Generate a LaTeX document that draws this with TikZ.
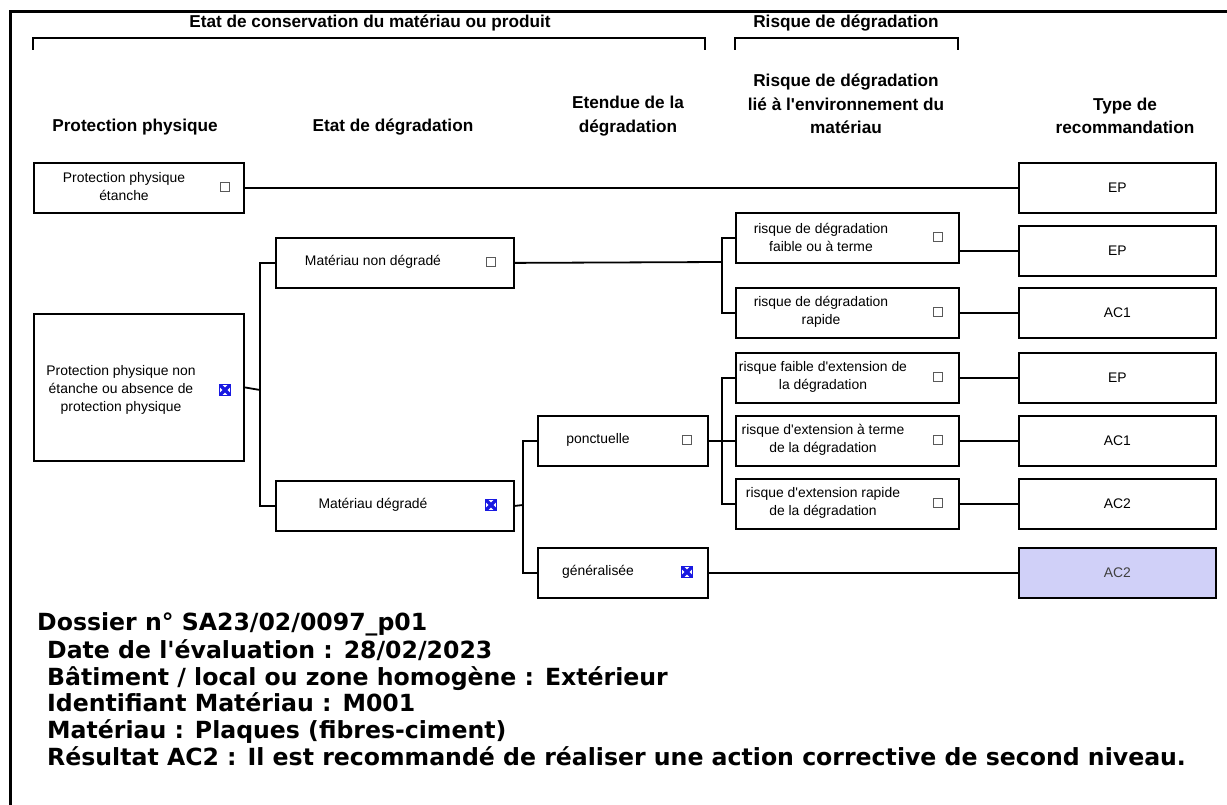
\documentclass[tikz,border=0pt]{standalone}
\usepackage{fontspec}
\setmainfont{Liberation Sans}
\newfontfamily\verd{DejaVu Sans}
\definecolor{cbblue}{RGB}{25,25,225}
\definecolor{lav}{RGB}{208,208,248}
\newcommand\aq{\textquotesingle}
\begin{document}
\begin{tikzpicture}[x=1pt,y=-1pt,
  frame/.style={line width=3pt},
  brk/.style={line width=1.8pt},
  box/.style={draw, line width=1.8pt, rectangle, inner sep=0pt, anchor=north west},
  conn/.style={line width=1.8pt},
  txt/.style={align=center, inner sep=0pt, font=\fontsize{13.9}{18}\selectfont},
  hdr/.style={align=center, inner sep=0pt, font=\bfseries\fontsize{17.2}{23.5}\selectfont},
  info/.style={anchor=base west, inner sep=0pt, font=\verd\bfseries\fontsize{23.6}{27}\selectfont},
  cb/.style={draw=black!65, line width=1.2pt, minimum size=9pt, inner sep=0pt},
  cbx/.style={draw=cbblue, line width=1pt, minimum size=11pt, inner sep=0pt,
    path picture={\draw[cbblue, line width=3.2pt] (path picture bounding box.north west) -- (path picture bounding box.south east) (path picture bounding box.north east) -- (path picture bounding box.south west);}}
]
\useasboundingbox (0,0) rectangle (1227,805);
% outer frame
\draw[frame] (10,805) -- (10,12) -- (1227,12);
% top headers and brackets
\node[hdr] (h1) at (370,23) {Etat de conservation du matériau ou produit};
\draw[brk] (33,50) -- (33,38) -- (705,38) -- (705,50);
\node[hdr] (h2) at (846,23) {Risque de dégradation};
\draw[brk] (735,50) -- (735,38) -- (958,38) -- (958,50);
% column headers
\node[hdr] (c1) at (135,127) {Protection physique};
\node[hdr] (c2) at (393,127) {Etat de dégradation};
\node[hdr] (c3) at (628,116) {Etendue de la\\dégradation};
\node[hdr] (c4) at (846,104) {Risque de dégradation\\lié à l\aq environnement du\\matériau};
\node[hdr] (c5) at (1125,116) {Type de\\recommandation};
% column 1
\node[box, minimum width=210pt, minimum height=50pt] (A1) at (33,162) {};
\node[txt] (A1t) at (124,187) {Protection physique\\étanche};
\node[cb] (A1c) at (225,187) {};
\node[box, minimum width=210pt, minimum height=147pt] (A2) at (33,313) {};
\node[txt] (A2t) at (121,390) {Protection physique non\\étanche ou absence de\\protection physique};
\node[cbx] (A2c) at (225,390) {};
% column 2
\node[box, minimum width=238pt, minimum height=50pt] (B1) at (275,237) {};
\node[txt] (B1t) at (373,262) {Matériau non dégradé};
\node[cb] (B1c) at (491,262) {};
\node[box, minimum width=238pt, minimum height=50pt] (B2) at (275,480) {};
\node[txt] (B2t) at (373,505) {Matériau dégradé};
\node[cbx] (B2c) at (491,505) {};
% column 3
\node[box, minimum width=170pt, minimum height=50pt] (C1) at (537,415) {};
\node[txt] (C1t) at (598,440) {ponctuelle};
\node[cb] (C1c) at (687,440) {};
\node[box, minimum width=170pt, minimum height=50pt] (C2) at (537,547) {};
\node[txt] (C2t) at (598,572) {généralisée};
\node[cbx] (C2c) at (687,572) {};
% column 4
\node[box, minimum width=223pt, minimum height=50pt] (R1) at (735,212) {};
\node[txt] (R1t) at (821,237) {risque de dégradation\\faible ou à terme};
\node[cb] (R1c) at (938,237) {};
\node[box, minimum width=223pt, minimum height=50pt] (R2) at (735,287) {};
\node[txt] (R2t) at (821,312) {risque de dégradation\\rapide};
\node[cb] (R2c) at (938,312) {};
\node[box, minimum width=223pt, minimum height=50pt] (R3) at (735,352) {};
\node[txt] (R3t) at (823,377) {risque faible d\aq extension de\\la dégradation};
\node[cb] (R3c) at (938,377) {};
\node[box, minimum width=223pt, minimum height=50pt] (R4) at (735,415) {};
\node[txt] (R4t) at (823,440) {risque d\aq extension à terme\\de la dégradation};
\node[cb] (R4c) at (938,440) {};
\node[box, minimum width=223pt, minimum height=50pt] (R5) at (735,478) {};
\node[txt] (R5t) at (823,503) {risque d\aq extension rapide\\de la dégradation};
\node[cb] (R5c) at (938,503) {};
% column 5
\node[box, minimum width=197pt, minimum height=50pt] (T1) at (1018,162) {};
\node[txt] at (T1.center) {EP};
\node[box, minimum width=197pt, minimum height=50pt] (T2) at (1018,225) {};
\node[txt] at (T2.center) {EP};
\node[box, minimum width=197pt, minimum height=50pt] (T3) at (1018,287) {};
\node[txt] at (T3.center) {AC1};
\node[box, minimum width=197pt, minimum height=50pt] (T4) at (1018,352) {};
\node[txt] at (T4.center) {EP};
\node[box, minimum width=197pt, minimum height=50pt] (T5) at (1018,415) {};
\node[txt] at (T5.center) {AC1};
\node[box, minimum width=197pt, minimum height=50pt] (T6) at (1018,478) {};
\node[txt] at (T6.center) {AC2};
\node[box, minimum width=197pt, minimum height=50pt, fill=lav] (T7) at (1018,547) {};
\node[txt, text=black!75] at (T7.center) {AC2};
% junctions
\coordinate (J1) at (260,390);
\coordinate (J2) at (523,505);
\coordinate (J3) at (722,262);
\coordinate (J4) at (722,440);
% connectors
\draw[conn] (A1.east) -- (T1.west);
\draw[conn] (A2.east) -- (J1);
\draw[conn] (B1.west) -| (J1) |- (B2.west);
\draw[conn] (B1.east) -- (J3);
\draw[conn] (R1.west) -| (J3) |- (R2.west);
\draw[conn] (B2.east) -- (J2);
\draw[conn] (C1.west) -| (J2) |- (C2.west);
\draw[conn] (C1.east) -- (R4.west);
\draw[conn] (R3.west) -| (J4) |- (R5.west);
\draw[conn] (R1.east |- T2.west) -- (T2.west);
\draw[conn] (R2.east) -- (T3.west);
\draw[conn] (R3.east) -- (T4.west);
\draw[conn] (R4.east) -- (T5.west);
\draw[conn] (R5.east) -- (T6.west);
\draw[conn] (C2.east) -- (T7.west);
% information text
\node[info] (i1) at (37,630) {Dossier n° SA23/02/0097\_p01};
\node[info] (i2) at (47,658) {Date de l'évaluation : 28/02/2023};
\node[info] (i3) at (47,685) {Bâtiment / local ou zone homogène : Extérieur};
\node[info] (i4) at (47,711) {Identifiant Matériau : M001};
\node[info] (i5) at (47,738) {Matériau : Plaques (fibres-ciment)};
\node[info] (i6) at (47,765) {Résultat AC2 : Il est recommandé de réaliser une action corrective de second niveau.};
\end{tikzpicture}
\end{document}
